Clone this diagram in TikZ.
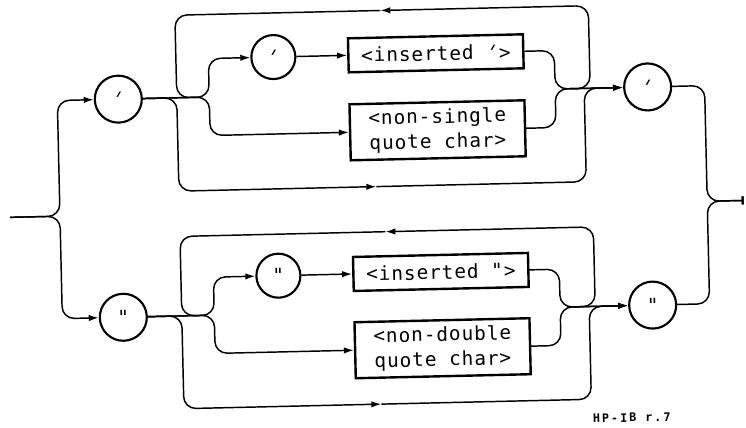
\documentclass[tikz,border=0pt]{standalone}
\usepackage{fontspec}
\usetikzlibrary{arrows.meta}
\newfontfamily\plotfont[LetterSpace=5]{DejaVu Sans Mono}
\newfontfamily\slantfont[FakeSlant=0.6]{DejaVu Sans Mono}
\newfontfamily\tagfont[LetterSpace=17]{DejaVu Sans Mono}
\newcommand\plotsq{{\slantfont\kern-0.3em'\kern0.35em}}
\begin{document}
\begin{tikzpicture}[x=0.75pt,y=-0.75pt,
  conn/.style={line width=1.1pt, rounded corners=9pt},
  tip/.style={-{Latex[length=7.5pt,width=4.8pt]}},
  endtip/.style={-{Bar[width=6pt,line width=1.6pt]}},
  bigc/.style={circle, draw, line width=1.6pt, inner sep=0pt, minimum size=35.25pt,
    font=\plotfont\fontsize{14.5}{17}\selectfont},
  smallc/.style={bigc, minimum size=33pt},
  box/.style={draw, line width=1.8pt, minimum width=131.25pt, inner sep=0pt, align=center,
    font=\plotfont\fontsize{14.5}{18.75}\selectfont},
  boxa/.style={box, minimum height=25.5pt},
  boxb/.style={box, minimum height=42pt}]
\useasboundingbox (0,0) rectangle (746,428);
\begin{scope}[rotate around={1.32:(373,214)}, transform shape]
% entry / exit
\coordinate (in) at (10,209);
\coordinate (sp) at (60,209);
\coordinate (mg) at (707.5,209);
\coordinate (out) at (744,209);
% upper system
\node[bigc] (c1) at (121,93.3) {\plotsq};
\node[smallc] (c2) at (277,54.8) {\plotsq};
\node[boxa] (b1) at (439.5,54.8) {<inserted \plotsq>};
\node[boxb] (b2) at (439.5,131.8) {<non-single\\quote char>};
\node[bigc] (c3) at (650.5,93.3) {\plotsq};
\coordinate (j1) at (212,93.3);
\coordinate (k1) at (558,93.3);
\coordinate (la1) at (385,10.7);
\coordinate (ba1) at (377,186.7);
% lower system
\node[bigc] (c4) at (121,311.5) {"};
\node[smallc] (c5) at (277,273.5) {"};
\node[boxa] (b3) at (439.5,273.5) {<inserted ">};
\node[boxb] (b4) at (439.5,349.8) {<non-double\\quote char>};
\node[bigc] (c6) at (650.5,311.5) {"};
\coordinate (j2) at (212,311.5);
\coordinate (k2) at (558,311.5);
\coordinate (la2) at (385,232);
\coordinate (ba2) at (377,404.3);
% entry
\draw[conn,tip] (in) -- (sp) |- (c1);
\draw[conn,tip] (in) -- (sp) |- (c4);
% upper connectors
\draw[conn,tip] (c1) -- (j1) |- (c2);
\draw[conn,tip] (c1) -- (j1) |- (b2);
\draw[conn,tip] (c2) -- (b1);
\draw[conn,tip] (b1) -| (k1) -- (c3);
\draw[conn,tip] (b2) -| (k1) -- (c3);
\draw[conn,tip] (c1) -- (179.5,93.3) |- (ba1);
\draw[conn,tip] (ba1) -| (587,93.3) -- (c3);
\draw[conn,tip] (572,93.3) -- (593,93.3) |- (la1);
\draw[conn] (la1) -| (179.5,93.3) -- (200,93.3);
\draw[conn,endtip] (c3) -| (mg) -- (out);
% lower connectors
\draw[conn,tip] (c4) -- (j2) |- (c5);
\draw[conn,tip] (c4) -- (j2) |- (b4);
\draw[conn,tip] (c5) -- (b3);
\draw[conn,tip] (b3) -| (k2) -- (c6);
\draw[conn,tip] (b4) -| (k2) -- (c6);
\draw[conn,tip] (c4) -- (179.5,311.5) |- (ba2);
\draw[conn,tip] (ba2) -| (587,311.5) -- (c6);
\draw[conn,tip] (572,311.5) -- (593,311.5) |- (la2);
\draw[conn] (la2) -| (179.5,311.5) -- (200,311.5);
\draw[conn,endtip] (c6) -| (mg) -- (out);
% tag
\node[font=\tagfont\bfseries\fontsize{8.8}{10}\selectfont] (tag) at (627,423.5) {HP-IB r.7};
\end{scope}
\end{tikzpicture}
\end{document}
